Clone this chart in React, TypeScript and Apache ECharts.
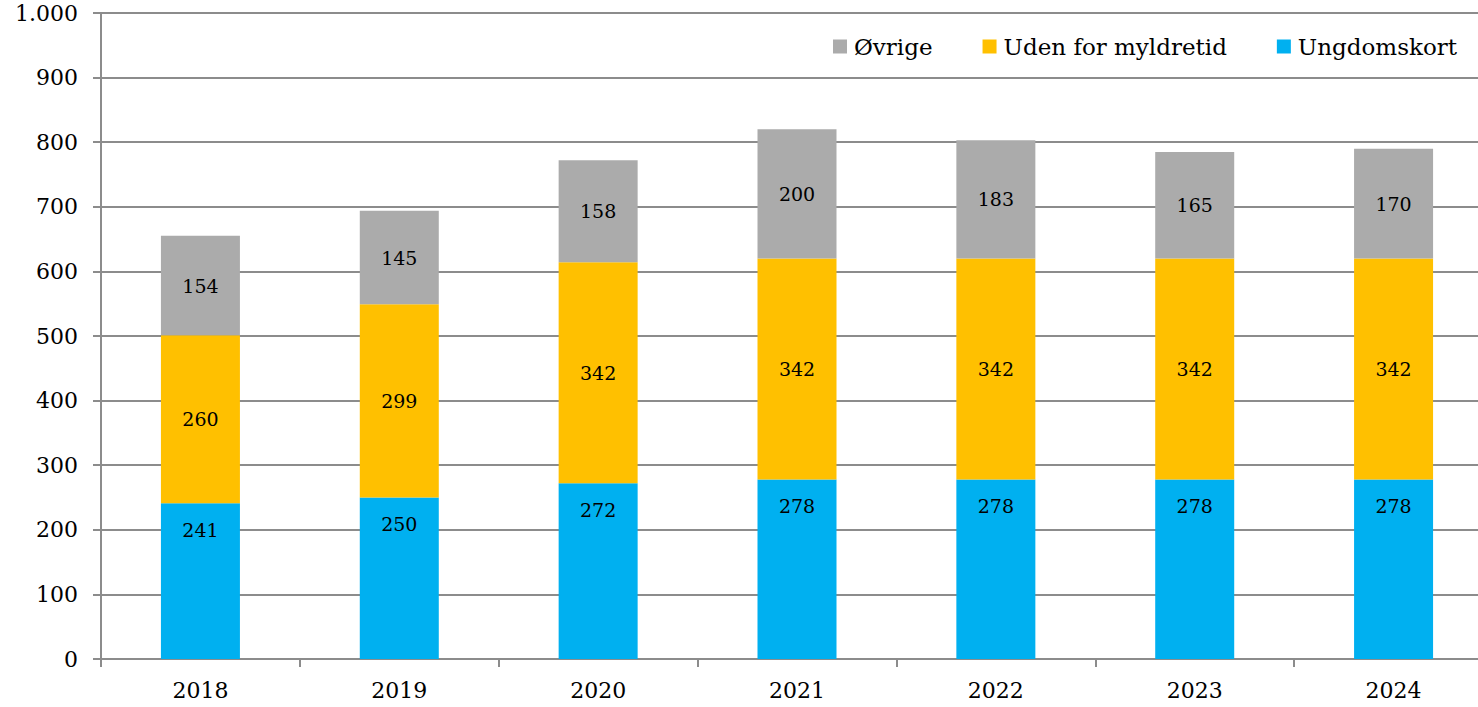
import React, { useEffect, useRef } from "react";
import * as echarts from "echarts";

const years = ["2018", "2019", "2020", "2021", "2022", "2023", "2024"];
const ungdomskort = [241, 250, 272, 278, 278, 278, 278];
const udenForMyldretid = [260, 299, 342, 342, 342, 342, 342];
const oevrige = [154, 145, 158, 200, 183, 165, 170];
const legendOrder = ["Øvrige", "Uden for myldretid", "Ungdomskort"];

const FONT = "'DejaVu Serif', 'Liberation Serif', serif";

export default function App() {
  const ref = useRef<HTMLDivElement>(null);
  useEffect(() => {
    document.body.style.margin = "0";
    const chart = echarts.init(ref.current!, undefined, { renderer: "svg" });
    const labelStyle = {
      show: true,
      color: "#000",
      fontFamily: FONT,
      fontSize: 19,
    };
    chart.setOption({
      animation: false,
      textStyle: { fontFamily: FONT },
      grid: {
        left: 101,
        width: 1392,
        top: 13,
        bottom: 48,
        containLabel: false,
        outerBoundsMode: "none",
      },
      legend: {
        data: legendOrder,
        top: 35,
        left: 833,
        padding: 0,
        itemWidth: 14,
        itemHeight: 14,
        itemGap: 50,
        icon: "rect",
        textStyle: { fontFamily: FONT, fontSize: 23, color: "#000", padding: [0, 0, 0, 2] },
      },
      xAxis: {
        type: "category",
        data: years,
        axisLine: { lineStyle: { color: "#8c8c8c", width: 2 } },
        axisTick: { show: true, length: 8, lineStyle: { color: "#8c8c8c", width: 2 } },
        axisLabel: { color: "#000", fontFamily: FONT, fontSize: 22, margin: 20 },
      },
      yAxis: {
        type: "value",
        min: 0,
        max: 1000,
        interval: 100,
        axisLine: { show: true, lineStyle: { color: "#8c8c8c", width: 2 } },
        axisTick: { show: true, length: 8, lineStyle: { color: "#8c8c8c", width: 2 } },
        splitLine: { show: true, lineStyle: { color: "#8c8c8c", width: 2 } },
        axisLabel: {
          color: "#000",
          fontFamily: FONT,
          fontSize: 22,
          margin: 23,
          formatter: (v: number) => (v >= 1000 ? v.toLocaleString("da-DK") : String(v)),
        },
      },
      series: [
        {
          name: "Ungdomskort",
          type: "bar",
          stack: "total",
          data: ungdomskort,
          barWidth: 79,
          itemStyle: { color: "#00B0F0" },
          label: { ...labelStyle, position: "insideTop", distance: 17 },
        },
        {
          name: "Uden for myldretid",
          type: "bar",
          stack: "total",
          data: udenForMyldretid,
          barWidth: 79,
          itemStyle: { color: "#FFC000" },
          label: { ...labelStyle, position: "inside" },
        },
        {
          name: "Øvrige",
          type: "bar",
          stack: "total",
          data: oevrige,
          barWidth: 79,
          itemStyle: { color: "#ABABAB" },
          label: { ...labelStyle, position: "inside" },
        },
      ],
    });
    return () => chart.dispose();
  }, []);
  return <div ref={ref} style={{ width: 1478, height: 707 }} />;
}
